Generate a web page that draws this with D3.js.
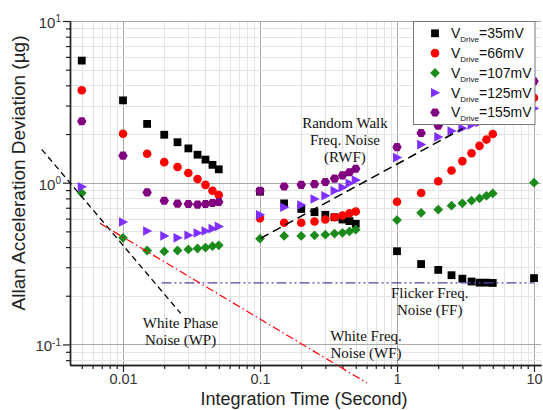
<!DOCTYPE html>
<html><head><meta charset="utf-8">
<script src="https://cdn.jsdelivr.net/npm/d3@7"></script>
<style>body{margin:0;background:#fff} svg{display:block}</style>
</head><body><svg id="c" width="543" height="410"></svg>
<script>
// ---------- DATA ----------
const tau = [0.005,0.01,0.015,0.02,0.025,0.03,0.035,0.04,0.045,0.05,
             0.1,0.15,0.2,0.25,0.3,0.35,0.4,0.45,0.5,
             1,1.5,2,2.5,3,3.5,4,4.5,5,10];
const v35  = [5.69,3.23,2.31,1.98,1.78,1.63,1.49,1.39,1.29,1.21,
              0.88,0.745,0.688,0.657,0.633,0.612,0.592,0.579,0.557,
              0.377,0.314,0.289,0.268,0.255,0.245,0.241,0.241,0.24,0.257];
const v66  = [3.73,2.01,1.51,1.34,1.25,1.148,1.055,0.97,0.891,0.839,
              0.604,0.565,0.565,0.576,0.592,0.612,0.627,0.648,0.663,
              0.763,0.863,1.02,1.19,1.36,1.52,1.69,1.85,2.0,3.35];
const v107 = [0.863,0.456,0.381,0.376,0.381,0.387,0.392,0.397,0.405,0.41,
              0.451,0.469,0.469,0.473,0.477,0.485,0.49,0.5,0.512,
              0.587,0.651,0.682,0.721,0.746,0.774,0.80,0.83,0.859,1.0];
const v125 = [0.943,0.571,0.503,0.469,0.456,0.473,0.489,0.503,0.52,0.537,
              0.633,0.705,0.728,0.793,0.83,0.891,0.935,0.993,1.04,
              1.43,1.72,1.92,2.09,2.17,2.28,2.36,null,null,2.88];
const v155 = [2.4,1.47,0.871,0.774,0.742,0.739,0.732,0.739,0.749,0.76,
              0.891,0.948,0.97,0.98,1.01,1.06,1.11,1.16,1.22,
              1.66,2.03,2.25,null,null,null,null,null,null,4.24];
const seriesValues = [v35, v66, v107, v125, v155];
const seriesLabels = ["=35mV","=66mV","=107mV","=125mV","=155mV"];

const xMajorTicks = [0.01, 0.1, 1, 10];
const xTickLabels = ["0.01", "0.1", "1", "10"];
const yMajorTicks = [0.1, 1, 10];
const yTickExp = ["-1", "0", "1"];

// noise reference lines: [tau0, val0, tau1, val1]
const lineWP  = [0.00255, 1.608, 0.02637, 0.1555];
const lineWF  = [0.00679, 0.561, 0.604, 0.0577];
const lineRWF = [0.101, 0.453, 3.03, 2.17];
const lineFF  = [0.0191, 0.240, 10, 0.240];

// annotation anchors: [tau, value, lines]
const annRWF = [0.417, 2.18, ["Random Walk", "Freq. Noise", "(RWF)"]];
const annWP  = [0.0263, 0.127, ["White Phase", "Noise (WP)"]];
const annWF  = [0.594, 0.105, ["White Freq.", "Noise (WF)"]];
const annFF  = [1.733, 0.194, ["Flicker Freq.", "Noise (FF)"]];

// ---------- STYLES ----------
const colors = ["#000000", "#ff0000", "#1a8a1a", "#7f2fff", "#800080"];
const shapes = ["square", "circle", "diamond", "triangle", "hexagon"];

function shapePath(t) {
  if (t === "square") { const h = 3.9; return `M${-h},${-h}H${h}V${h}H${-h}Z`; }
  if (t === "circle") { const r = 4.3; return `M${r},0A${r},${r} 0 1,1 ${-r},0A${r},${r} 0 1,1 ${r},0Z`; }
  if (t === "diamond") { const h = 4.9; return `M0,${-h}L${h},0L0,${h}L${-h},0Z`; }
  if (t === "triangle") { return `M5.2,0L-4,-4.8L-4,4.8Z`; }
  if (t === "hexagon") {
    const r = 4.7; let p = "";
    for (let i = 0; i < 6; i++) { const a = Math.PI / 3 * i; p += (i ? "L" : "M") + (r * Math.cos(a)).toFixed(2) + "," + (r * Math.sin(a)).toFixed(2); }
    return p + "Z";
  }
}

// ---------- LAYOUT ----------
const L = 70, R = 541, T = 21, B = 365;
const svg = d3.select("#c");
const x = d3.scaleLog().domain([Math.pow(10, -327 / 137), Math.pow(10, 144 / 137)]).range([L, R]);
const y = d3.scaleLog().domain([0.0746, 10]).range([B, T]);

function logTicks(dom) {
  const out = [];
  for (let d = -4; d <= 2; d++) for (let m = 1; m <= 9; m++) {
    const v = m * Math.pow(10, d);
    if (v >= dom[0] * 0.9999 && v <= dom[1] * 1.0001) out.push({v, major: m === 1});
  }
  return out;
}
const xt = logTicks(x.domain()), yt = logTicks(y.domain());

// grid
const g = svg.append("g");
g.selectAll(".gx").data(xt).enter().append("line")
  .attr("x1", d => Math.round(x(d.v)) + 0.5).attr("x2", d => Math.round(x(d.v)) + 0.5)
  .attr("y1", T).attr("y2", B)
  .attr("stroke", d => d.major ? "#a8a8a8" : "#e4e4e4").attr("stroke-width", 1);
g.selectAll(".gy").data(yt).enter().append("line")
  .attr("y1", d => Math.round(y(d.v)) + 0.5).attr("y2", d => Math.round(y(d.v)) + 0.5)
  .attr("x1", L).attr("x2", R)
  .attr("stroke", d => d.major ? "#a8a8a8" : "#e4e4e4").attr("stroke-width", 1);

// axes
const xMinor = xt.filter(d => !d.major).map(d => d.v);
const yMinor = yt.filter(d => !d.major).map(d => d.v);
function styleAxis(sel) {
  sel.select(".domain").attr("stroke", "#222").attr("stroke-width", 1.4);
  sel.selectAll(".tick line").attr("stroke", "#222").attr("stroke-width", 1.2);
}
const ax1 = svg.append("g").attr("transform", `translate(0,${B})`)
  .call(d3.axisBottom(x).tickValues(xMinor).tickSize(4).tickSizeOuter(0).tickFormat(""));
styleAxis(ax1);
const ax2 = svg.append("g").attr("transform", `translate(0,${B})`)
  .call(d3.axisBottom(x).tickValues(xMajorTicks).tickSize(7).tickSizeOuter(0)
    .tickFormat((d, i) => xTickLabels[i]));
styleAxis(ax2);
ax2.selectAll(".tick text").attr("font-family", "Liberation Sans, Arial, sans-serif")
  .attr("font-size", "14.5px").attr("fill", "#333").attr("y", 9).attr("dy", "0.71em");

const ay1 = svg.append("g").attr("transform", `translate(${L},0)`)
  .call(d3.axisLeft(y).tickValues(yMinor).tickSize(4).tickSizeOuter(0).tickFormat(""));
styleAxis(ay1);
const ay2 = svg.append("g").attr("transform", `translate(${L},0)`)
  .call(d3.axisLeft(y).tickValues(yMajorTicks).tickSize(7).tickSizeOuter(0).tickFormat(""));
styleAxis(ay2);
ay2.selectAll(".tick").each(function (d, i) {
  const t = d3.select(this).append("text").attr("x", -9).attr("y", 0).attr("dy", "0.42em")
    .attr("text-anchor", "end").attr("font-family", "Liberation Sans, Arial, sans-serif")
    .attr("fill", "#333").attr("font-size", "15px");
  t.append("tspan").text("10");
  t.append("tspan").attr("dy", "-0.55em").attr("font-size", "10px").text(yTickExp[i]);
});

// data markers
seriesValues.forEach((vals, si) => {
  const pts = tau.map((t, i) => ({t, v: vals[i]})).filter(d => d.v != null);
  svg.append("g").selectAll("path").data(pts).enter().append("path")
    .attr("d", shapePath(shapes[si]))
    .attr("transform", d => `translate(${x(d.t)},${y(d.v)})`)
    .attr("fill", colors[si]);
});

// reference lines
function refLine(p, color, w, dash) {
  svg.append("line").attr("x1", x(p[0])).attr("y1", y(p[1])).attr("x2", x(p[2])).attr("y2", y(p[3]))
    .attr("stroke", color).attr("stroke-width", w).attr("stroke-dasharray", dash);
}
refLine(lineWP, "#000", 1.3, "6,4");
refLine(lineWF, "#ff0000", 1.2, "8,3,1.5,3");
refLine(lineRWF, "#000", 1.5, "9,5");
refLine(lineFF, "#5b3fa8", 1.3, "10,3,2,3,2,3");

// annotations
[annRWF, annWP, annWF, annFF].forEach(a => {
  const t = svg.append("text").attr("x", x(a[0])).attr("y", y(a[1]))
    .attr("text-anchor", "middle").attr("font-family", "Liberation Serif, Times New Roman, serif")
    .attr("font-size", "15px").attr("fill", "#111");
  a[2].forEach((s, i) => t.append("tspan").attr("x", x(a[0])).attr("dy", i ? 17 : 0).text(s));
});

// axis titles
svg.append("text").attr("x", 304).attr("y", 405).attr("text-anchor", "middle")
  .attr("font-family", "Liberation Sans, Arial, sans-serif").attr("font-size", "18px").attr("fill", "#222")
  .text("Integration Time (Second)");
svg.append("text").attr("transform", "translate(25,173) rotate(-90)").attr("text-anchor", "middle")
  .attr("font-family", "Liberation Sans, Arial, sans-serif").attr("font-size", "19px").attr("fill", "#222")
  .text("Allan Acceleration Deviation (\u00b5g)");

// legend
const lg = svg.append("g");
lg.append("rect").attr("x", 413.5).attr("y", 21.5).attr("width", 121.5).attr("height", 103)
  .attr("fill", "#fff").attr("stroke", "#777").attr("stroke-width", 1);
seriesLabels.forEach((s, i) => {
  const cy = 33.3 + i * 19.8;
  lg.append("path").attr("d", shapePath(shapes[i])).attr("transform", `translate(435,${cy})`).attr("fill", colors[i]);
  const t = lg.append("text").attr("x", 451).attr("y", cy + 4.8)
    .attr("font-family", "Liberation Sans, Arial, sans-serif").attr("font-size", "14px").attr("fill", "#111");
  t.append("tspan").text("V");
  t.append("tspan").attr("dy", 4).attr("font-size", "8px").text("Drive");
  t.append("tspan").attr("dy", -4).text(s);
});
</script></body></html>
